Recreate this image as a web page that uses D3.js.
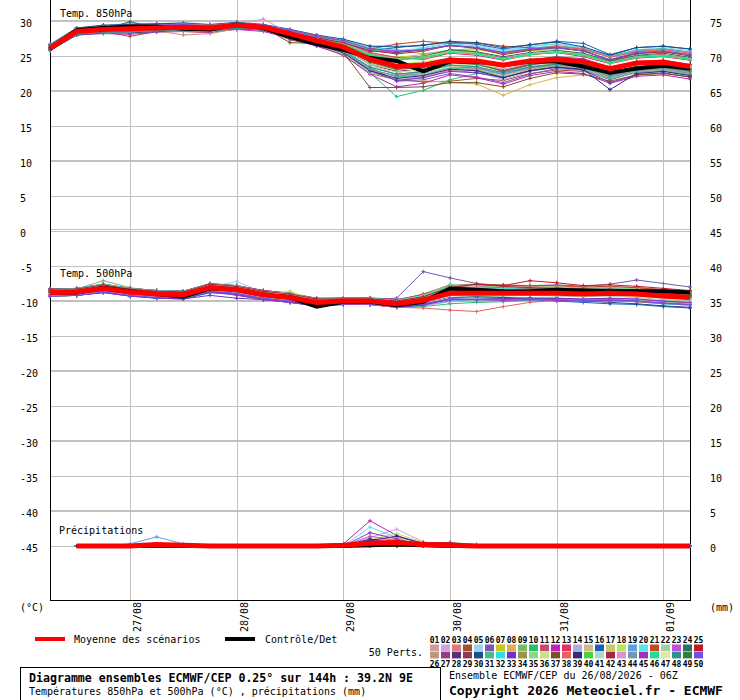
<!DOCTYPE html>
<html>
<head>
<meta charset="utf-8">
<script src="https://cdn.jsdelivr.net/npm/d3@7"></script>
<style>
body { margin:0; background:#fff; }
svg text { font-family:"DejaVu Sans Mono", monospace; fill:#000; }
</style>
</head>
<body>
<div id="chart"></div>
<script>
// run start and step of the ensemble (6h steps over 144h)
var RUN_START = Date.UTC(2026, 7, 26, 6);
var STEP_HOURS = 6;
var NSTEPS = 25;

var leftTicks = [30,25,20,15,10,5,0,-5,-10,-15,-20,-25,-30,-35,-40,-45];

// 850hPa temperature (°C)
var mean850 = [26.1,28.5,28.8,28.9,29.0,29.1,29.0,29.4,29.1,28.2,27.2,26.3,24.5,23.5,23.7,24.4,24.3,23.7,24.3,24.5,24.2,23.2,24.0,24.1,23.5];
var ctrl850 = [26.0,28.7,29.0,29.2,29.2,28.9,28.8,29.5,29.0,27.7,26.7,25.9,24.7,24.3,22.8,24.2,24.2,23.7,24.2,24.2,23.5,22.6,23.2,23.6,23.2];
var pert850 = [
	[26.3,28.6,28.9,29.2,29.1,29.3,29.0,29.5,29.2,28.4,27.5,26.9,25.9,25.6,25.9,26.6,26.2,25.6,26.1,26.4,26.0,25.1,25.8,26.0,25.6],
	[26.0,28.2,28.4,28.3,28.6,28.7,28.8,29.0,28.8,28.3,27.4,26.3,23.8,22.3,22.7,23.5,23.9,22.7,23.6,24.1,24.3,23.2,24.0,23.9,23.5],
	[26.0,28.1,28.6,28.8,28.7,28.5,28.3,29.0,28.7,27.8,26.7,25.5,23.1,21.5,21.9,23.0,22.6,21.9,23.1,23.6,23.3,22.0,22.9,23.1,22.5],
	[26.1,28.3,28.5,27.8,28.5,28.7,28.4,29.2,28.9,27.3,26.5,25.1,22.5,21.6,21.3,21.4,21.8,21.5,22.5,23.0,22.8,21.9,22.6,22.9,22.4],
	[26.7,29.0,29.3,29.7,29.6,29.8,29.5,29.8,29.5,28.8,28.0,27.3,26.4,26.6,26.2,27.0,26.6,25.8,26.4,26.8,26.2,25.1,25.9,26.2,25.8],
	[26.0,28.6,28.8,28.9,29.1,29.2,29.1,29.4,29.0,28.1,27.0,25.8,23.4,21.4,21.6,22.5,22.0,21.2,22.4,23.2,23.0,21.6,22.7,22.9,22.4],
	[26.3,28.5,28.9,29.1,29.0,29.2,28.9,29.5,29.2,28.3,27.4,26.6,25.2,24.8,25.2,25.6,25.9,25.4,25.8,25.9,25.2,24.2,25.0,25.2,24.6],
	[26.1,28.4,28.6,28.8,28.9,29.0,29.3,29.4,29.1,28.2,27.1,26.2,24.3,22.8,21.5,21.2,21.0,19.4,20.9,21.9,22.3,22.0,22.5,22.8,22.5],
	[26.6,29.0,29.4,29.4,29.6,29.6,29.3,29.8,29.5,28.7,27.8,27.2,26.2,25.9,25.3,25.8,26.1,25.3,25.9,26.1,25.8,24.9,25.6,25.8,25.2],
	[25.9,28.2,28.5,28.7,28.8,28.9,28.7,29.2,28.9,27.9,26.8,25.6,22.6,19.2,20.1,21.6,22.5,22.8,23.5,23.9,23.6,22.7,23.3,23.5,22.9],
	[26.2,28.6,29.0,29.1,29.2,29.2,29.0,29.3,29.0,28.1,27.2,26.6,25.4,24.6,25.0,25.8,25.5,24.7,25.3,25.5,25.2,24.2,25.0,25.2,24.6],
	[25.8,28.0,28.2,28.1,28.4,28.5,28.4,28.8,28.5,27.6,26.4,25.2,22.4,20.6,21.1,22.3,21.9,21.0,22.2,22.8,22.5,21.1,22.1,22.3,21.7],
	[26.5,28.9,29.3,29.6,29.5,29.6,29.4,29.7,29.4,28.6,27.7,26.9,25.5,24.8,24.5,25.4,25.1,24.4,25.2,25.5,24.9,23.9,24.7,24.9,24.4],
	[25.9,28.1,28.3,28.3,28.5,28.6,28.6,28.9,28.7,27.8,26.7,25.4,22.7,21.6,22.0,23.2,22.8,21.6,22.8,23.4,22.9,21.8,22.6,22.9,22.2],
	[26.4,28.6,28.9,29.2,29.1,29.3,29.0,29.5,29.1,28.2,27.3,26.3,24.4,23.4,22.9,24.1,24.3,23.7,24.3,24.8,24.5,23.3,24.1,24.3,23.6],
	[26.2,28.5,28.8,29.0,29.1,29.2,29.1,29.4,29.1,28.4,27.7,26.9,25.8,26.2,26.6,27.0,26.7,26.0,26.6,27.1,26.8,25.2,26.2,26.4,26.0],
	[25.8,28.1,28.3,28.5,28.5,28.7,28.6,29.0,28.8,27.9,26.9,25.9,23.9,23.1,23.4,24.2,23.9,23.1,23.9,24.3,24.1,22.9,23.6,23.9,23.1],
	[26.3,28.6,28.9,29.1,29.2,29.3,29.1,29.5,29.2,28.3,27.3,26.4,24.6,23.8,24.2,24.7,24.4,23.6,24.5,24.7,24.2,22.9,23.7,23.9,23.2],
	[26.1,28.5,28.8,29.0,29.0,29.2,29.0,29.4,29.0,28.0,27.0,25.8,23.4,22.4,22.7,23.7,23.4,22.4,23.3,23.8,23.4,22.1,23.1,23.3,22.7],
	[26.6,29.0,29.3,29.6,29.5,29.6,29.4,29.7,29.4,28.7,27.9,27.2,26.2,25.8,26.1,26.8,26.4,25.7,26.3,26.7,26.1,25.0,25.8,26.1,25.6],
	[26.2,28.5,28.9,29.1,29.1,29.2,29.0,29.4,29.1,28.4,27.6,26.8,26.0,26.7,27.1,26.8,26.9,26.4,26.2,26.2,25.8,24.4,25.3,25.6,25.2],
	[25.8,28.1,28.3,28.4,28.6,28.7,28.6,29.0,28.8,27.7,26.6,25.3,22.6,21.8,22.2,23.4,23.1,22.1,23.1,23.5,23.2,21.9,22.8,23.0,22.4],
	[26.3,28.6,29.0,29.2,29.2,29.3,29.1,29.5,29.2,28.3,27.4,26.5,24.6,23.6,23.9,24.6,24.4,23.6,24.4,24.9,24.4,23.3,24.1,24.3,23.7],
	[26.1,28.5,28.8,29.9,29.0,29.1,29.0,29.4,29.0,28.2,27.3,26.5,25.0,24.4,24.9,25.9,25.6,24.9,25.5,25.8,25.4,24.3,25.1,25.4,24.8],
	[26.2,28.6,28.9,29.1,29.1,29.3,29.1,29.5,29.1,28.5,27.7,27.0,25.8,25.3,25.7,26.5,26.2,25.4,26.0,26.4,26.0,24.9,25.8,26.0,25.5],
	[26.0,28.4,28.6,28.4,28.6,28.0,28.2,28.9,29.0,28.0,26.8,25.6,23.0,22.2,22.6,23.5,23.2,22.3,23.2,23.7,23.3,22.2,23.0,23.2,22.6],
	[26.3,28.6,29.0,29.1,29.1,29.3,29.1,29.4,29.1,28.3,27.3,26.4,24.5,23.6,23.9,24.7,24.5,23.7,24.4,24.9,24.6,23.4,24.2,24.4,23.8],
	[25.9,28.2,28.4,28.5,28.7,28.8,28.7,29.1,28.8,27.9,26.9,26.0,23.8,22.8,23.2,24.1,23.8,22.9,23.8,24.3,23.8,22.6,23.5,23.7,23.1],
	[26.2,28.6,28.9,29.0,29.1,29.2,29.0,29.4,29.1,28.2,27.2,26.3,24.4,23.4,23.8,24.5,24.2,23.4,24.2,24.6,24.2,23.0,23.9,24.1,23.5],
	[26.6,29.0,29.4,29.5,29.6,29.7,29.5,29.8,29.5,28.8,28.0,27.4,26.4,26.3,26.5,27.1,26.9,26.2,26.6,27.0,26.3,25.1,26.2,26.4,26.0],
	[25.9,28.1,28.5,28.5,28.6,28.8,28.6,29.0,28.8,27.9,26.8,25.7,23.2,22.0,22.3,23.3,23.0,22.0,22.9,23.5,23.1,21.7,22.7,22.9,22.3],
	[26.3,28.6,28.9,29.1,29.2,29.3,29.1,29.5,29.2,28.5,27.7,27.0,25.9,25.5,25.8,26.6,26.2,25.5,26.1,26.5,26.0,24.9,25.8,26.0,25.5],
	[26.0,28.4,28.6,28.8,28.9,29.0,28.9,29.2,28.9,27.9,26.7,25.5,22.9,21.5,21.9,22.8,22.6,21.9,22.9,23.4,23.0,21.2,22.3,22.6,22.0],
	[26.2,28.5,28.8,29.0,29.0,29.2,29.0,29.4,29.0,28.2,27.2,26.2,24.2,23.4,23.7,24.6,24.3,23.5,24.3,24.7,24.3,23.1,24.0,24.2,23.6],
	[26.3,28.6,29.0,29.2,29.2,29.3,29.1,29.5,29.2,28.4,27.5,26.8,25.3,24.6,24.9,25.7,25.4,24.6,25.3,25.6,25.2,24.1,24.9,25.1,24.6],
	[25.8,28.1,28.3,28.5,28.6,28.7,28.5,29.0,28.7,27.8,26.8,25.8,23.5,22.7,23.0,23.9,23.7,22.8,23.6,24.1,23.7,22.5,23.4,23.6,23.0],
	[26.2,28.5,28.8,29.0,29.0,29.2,29.0,29.4,29.1,26.9,26.8,25.5,20.5,20.5,20.6,21.2,21.2,20.6,21.8,22.6,22.4,21.4,22.3,22.5,22.0],
	[26.5,28.9,29.2,29.4,29.4,29.6,29.4,29.7,29.4,28.7,27.9,27.2,26.0,25.6,25.9,26.5,26.2,25.4,26.0,26.4,26.0,24.8,25.6,25.9,25.4],
	[25.8,28.0,28.3,28.3,28.5,28.7,28.6,28.9,28.7,27.7,26.6,25.5,22.9,21.8,22.2,23.1,22.9,21.9,22.9,23.4,23.1,20.2,22.5,22.8,22.2],
	[26.2,28.6,28.9,29.1,29.1,29.3,29.1,29.4,29.1,28.3,27.4,26.7,25.2,24.5,24.8,25.5,25.3,24.5,25.2,25.5,25.1,24.0,24.8,25.0,24.5],
	[25.9,28.2,28.4,28.6,28.7,28.8,28.7,29.0,28.8,27.9,26.9,26.0,23.8,23.0,23.3,24.2,23.8,23.0,23.8,24.2,23.8,22.7,23.5,23.7,23.1],
	[26.3,28.6,28.9,29.1,29.1,29.2,29.0,29.5,29.1,28.4,27.6,26.9,25.7,25.5,25.9,26.5,26.1,25.2,25.8,26.2,25.7,24.4,25.4,25.6,25.0],
	[26.2,28.5,28.8,29.0,29.1,29.2,29.0,29.4,30.3,28.2,27.2,26.2,24.2,23.3,23.5,24.3,24.0,23.1,23.9,24.4,24.1,22.9,23.7,24.0,23.4],
	[25.9,28.1,28.4,28.4,28.6,28.7,28.6,29.0,28.8,27.8,26.7,25.6,23.1,22.1,22.5,23.5,23.3,22.4,23.4,23.8,23.3,22.0,22.9,23.2,22.5],
	[26.3,28.6,29.0,29.2,29.2,29.3,29.1,29.5,29.2,28.4,27.4,26.5,24.5,23.3,23.6,24.3,23.9,22.8,23.7,24.3,23.9,22.6,23.5,23.8,23.2],
	[26.2,28.5,28.9,29.1,29.1,29.2,29.0,29.4,29.1,28.3,27.4,26.6,25.1,24.4,24.7,25.5,25.3,24.5,25.2,25.6,25.1,24.0,24.8,25.0,24.5],
	[26.4,28.7,29.0,29.2,29.2,29.4,29.1,29.5,29.2,28.3,27.4,26.4,24.3,23.5,22.6,23.5,23.7,23.4,24.1,24.4,24.0,23.2,23.6,23.9,23.4],
	[25.9,28.1,28.4,28.5,28.6,28.8,28.6,29.0,28.8,27.9,26.8,25.8,23.4,22.4,22.8,23.7,23.5,22.6,23.4,23.8,23.5,22.3,23.1,23.4,22.8],
	[26.2,28.6,28.9,29.1,29.1,29.2,29.0,29.4,29.0,28.2,27.2,26.2,24.1,23.1,23.4,24.1,23.8,22.9,23.8,24.2,23.8,22.6,23.5,23.7,23.1],
	[26.5,28.8,29.2,29.4,29.4,29.5,29.3,29.7,29.4,28.7,27.8,27.2,26.0,25.7,25.9,26.5,26.2,25.5,26.0,26.2,25.7,24.5,25.5,25.7,25.2]
];

// 500hPa temperature (°C)
var mean500 = [-8.8,-8.7,-8.2,-8.7,-9.0,-9.1,-8.1,-8.4,-9.1,-9.5,-10.2,-10.0,-10.0,-10.4,-9.9,-8.9,-8.9,-8.9,-8.9,-8.9,-9.0,-8.9,-9.0,-9.3,-9.5];
var ctrl500 = [-8.8,-8.8,-8.1,-8.6,-9.0,-9.4,-8.2,-8.4,-9.1,-9.5,-10.8,-10.1,-10.1,-10.6,-10.1,-8.2,-8.4,-8.6,-8.6,-8.4,-8.5,-8.6,-8.6,-8.6,-8.8];
var pert500 = [
	[-8.4,-8.3,-7.6,-8.2,-8.5,-8.6,-7.5,-7.8,-8.6,-8.9,-9.6,-9.5,-9.5,-9.8,-9.2,-8.1,-8.0,-8.1,-8.0,-8.1,-8.2,-8.1,-8.2,-8.5,-8.7],
	[-9.2,-9.1,-8.7,-9.2,-9.5,-9.6,-8.7,-9.0,-9.7,-10.1,-10.7,-10.4,-10.5,-10.9,-10.7,-10.1,-10.0,-9.9,-9.8,-9.7,-9.9,-9.8,-10.0,-10.3,-10.5],
	[-8.8,-8.7,-8.1,-8.7,-9.0,-9.1,-8.0,-8.3,-9.0,-9.4,-10.1,-10.0,-10.0,-10.5,-10.0,-9.0,-8.8,-8.8,-8.8,-8.8,-8.9,-8.8,-8.9,-9.2,-9.4],
	[-8.3,-8.3,-7.8,-8.2,-8.6,-8.6,-7.7,-7.9,-8.7,-9.1,-9.8,-9.7,-9.6,-10.0,-9.2,-7.9,-7.8,-8.0,-8.2,-8.1,-8.2,-8.0,-8.2,-8.5,-8.7],
	[-8.9,-8.7,-8.0,-8.7,-8.9,-9.1,-8.0,-7.2,-8.8,-9.3,-10.0,-9.9,-10.1,-10.4,-9.8,-8.7,-8.8,-8.9,-8.8,-8.8,-8.9,-8.8,-8.9,-9.2,-9.5],
	[-8.8,-8.6,-8.2,-8.7,-9.0,-9.0,-8.2,-8.5,-9.1,-9.5,-10.1,-9.9,-9.8,-9.6,-5.8,-6.7,-7.5,-7.8,-7.8,-7.7,-7.9,-7.6,-7.0,-7.5,-8.0],
	[-9.0,-9.0,-8.5,-9.0,-9.3,-9.4,-8.4,-8.7,-9.4,-9.8,-10.5,-10.3,-10.2,-10.6,-10.1,-9.0,-8.9,-9.0,-9.1,-9.1,-9.2,-9.2,-9.3,-9.6,-9.8],
	[-8.7,-8.6,-8.1,-8.6,-8.9,-9.0,-8.0,-8.3,-9.0,-9.4,-10.1,-10.0,-10.1,-10.5,-10.2,-9.2,-9.0,-8.9,-8.7,-8.6,-8.8,-8.7,-8.8,-9.1,-9.3],
	[-8.4,-8.3,-7.1,-8.1,-8.6,-8.7,-7.7,-8.0,-8.6,-9.0,-9.7,-9.7,-9.7,-10.0,-9.5,-8.3,-8.4,-8.5,-8.5,-8.6,-8.7,-8.6,-8.7,-9.0,-9.2],
	[-9.3,-9.2,-8.7,-9.2,-9.6,-9.7,-8.8,-9.0,-9.7,-10.1,-10.7,-10.5,-10.5,-10.9,-10.8,-10.4,-10.2,-10.1,-9.9,-9.8,-10.0,-9.9,-10.1,-10.4,-10.6],
	[-8.8,-8.7,-8.2,-8.7,-9.0,-9.1,-8.1,-8.4,-9.1,-9.5,-10.2,-10.0,-10.0,-10.4,-9.9,-8.9,-8.9,-8.9,-8.9,-9.0,-9.1,-9.0,-9.1,-9.4,-9.6],
	[-8.3,-8.2,-7.6,-8.2,-8.5,-8.6,-7.5,-7.8,-8.5,-8.9,-9.6,-9.6,-9.6,-9.8,-9.1,-7.7,-7.8,-8.0,-7.9,-8.0,-8.1,-8.0,-8.1,-8.4,-8.7],
	[-9.3,-9.2,-8.7,-9.2,-9.5,-9.6,-8.7,-9.0,-9.7,-10.1,-10.6,-10.4,-10.4,-10.8,-10.5,-9.8,-9.8,-9.7,-9.6,-9.6,-9.8,-9.7,-9.8,-10.1,-10.3],
	[-8.8,-8.7,-8.2,-8.7,-9.0,-9.1,-8.1,-8.4,-9.1,-9.5,-10.2,-10.0,-10.0,-10.3,-9.8,-8.7,-8.8,-8.8,-8.7,-8.8,-8.9,-8.8,-8.9,-9.2,-9.4],
	[-8.7,-8.7,-8.1,-8.7,-9.0,-9.1,-8.0,-8.3,-9.0,-9.4,-10.1,-10.0,-10.0,-10.4,-10.0,-9.0,-8.9,-8.9,-8.8,-8.9,-9.0,-8.9,-9.0,-9.3,-9.5],
	[-9.3,-9.2,-8.8,-9.3,-9.6,-9.7,-8.8,-9.1,-9.8,-10.2,-10.7,-10.5,-10.5,-10.8,-10.5,-9.8,-9.7,-9.8,-9.8,-10.0,-10.2,-10.4,-10.5,-10.8,-11.0],
	[-8.4,-8.3,-7.8,-8.3,-8.6,-8.7,-7.7,-8.0,-8.7,-9.1,-9.8,-9.7,-9.7,-10.0,-9.3,-7.8,-7.7,-7.9,-8.0,-7.9,-8.1,-8.0,-8.2,-8.5,-8.7],
	[-8.7,-8.6,-8.1,-8.6,-9.0,-9.0,-8.0,-8.3,-9.0,-8.6,-10.0,-9.9,-9.9,-10.2,-9.6,-8.5,-8.6,-8.7,-8.6,-8.7,-8.8,-8.7,-8.8,-9.1,-9.3],
	[-9.2,-9.2,-8.7,-9.2,-9.5,-9.6,-8.6,-8.9,-9.6,-10.0,-10.6,-10.4,-10.4,-10.8,-10.6,-10.0,-9.8,-9.7,-9.8,-9.9,-10.0,-9.9,-10.1,-10.4,-10.6],
	[-8.8,-8.7,-8.2,-8.7,-9.0,-9.1,-8.1,-8.4,-9.1,-9.5,-10.2,-10.0,-10.0,-10.4,-9.9,-8.8,-8.9,-9.0,-9.0,-9.0,-9.1,-9.0,-9.1,-9.4,-9.6],
	[-8.3,-8.2,-7.6,-8.2,-8.5,-8.6,-7.6,-7.9,-8.6,-9.0,-9.7,-9.6,-9.6,-9.9,-9.0,-7.7,-7.6,-7.7,-7.8,-7.8,-8.0,-7.9,-8.1,-8.4,-8.6],
	[-9.3,-9.2,-8.7,-9.2,-9.5,-9.6,-8.6,-8.9,-9.6,-10.0,-10.6,-10.4,-10.4,-10.9,-10.4,-9.5,-9.4,-9.3,-9.2,-9.3,-9.4,-9.3,-9.5,-9.8,-10.0],
	[-8.8,-8.7,-8.1,-8.7,-9.0,-9.1,-8.1,-8.4,-9.1,-9.5,-10.2,-10.0,-10.0,-10.3,-9.7,-8.6,-8.7,-8.7,-8.7,-8.7,-8.8,-8.7,-8.8,-9.1,-9.4],
	[-9.2,-9.1,-8.6,-9.1,-9.4,-9.5,-8.5,-8.8,-9.5,-9.9,-10.5,-10.3,-10.3,-10.7,-10.4,-9.7,-9.6,-9.6,-9.7,-9.7,-9.8,-9.8,-9.9,-10.2,-10.4],
	[-8.3,-8.2,-7.7,-8.2,-8.5,-8.6,-7.6,-7.8,-8.5,-8.9,-9.7,-9.6,-9.6,-9.9,-9.3,-8.0,-7.7,-7.8,-7.1,-7.4,-7.8,-7.7,-7.9,-8.2,-8.5],
	[-8.9,-8.8,-8.3,-8.8,-9.1,-9.2,-8.3,-8.6,-9.3,-9.7,-10.3,-10.1,-10.1,-10.5,-10.1,-9.1,-9.0,-9.0,-9.0,-9.0,-9.1,-9.0,-9.2,-9.5,-9.7],
	[-8.8,-8.7,-8.2,-8.7,-9.0,-9.1,-8.1,-8.4,-9.1,-9.5,-10.2,-10.0,-10.0,-10.4,-9.8,-8.8,-8.8,-8.8,-8.8,-8.8,-8.9,-8.8,-9.0,-9.3,-9.5],
	[-8.7,-8.7,-8.1,-8.7,-9.0,-9.1,-8.0,-8.3,-9.0,-9.4,-10.1,-10.0,-10.0,-10.3,-9.7,-8.6,-8.6,-8.7,-8.7,-8.6,-8.7,-8.6,-8.7,-9.0,-9.2],
	[-8.5,-8.4,-7.9,-8.4,-8.7,-8.8,-7.8,-8.1,-8.8,-9.2,-9.9,-9.8,-9.8,-10.1,-9.7,-8.5,-8.2,-8.1,-8.2,-8.2,-8.4,-8.3,-8.5,-8.8,-9.0],
	[-9.2,-9.2,-8.7,-9.2,-9.5,-9.6,-8.6,-8.9,-9.6,-10.0,-10.6,-10.4,-10.4,-10.8,-10.4,-9.5,-9.4,-9.5,-9.6,-9.8,-10.0,-10.2,-10.4,-10.7,-10.9],
	[-8.8,-8.7,-8.2,-8.7,-9.0,-9.1,-8.1,-8.4,-9.1,-9.5,-10.2,-10.0,-10.0,-10.4,-9.9,-8.9,-8.9,-8.9,-8.9,-8.9,-9.0,-8.9,-9.0,-9.3,-9.5],
	[-8.3,-8.2,-7.6,-8.2,-8.5,-8.6,-7.6,-7.8,-8.6,-8.9,-9.7,-9.6,-9.6,-9.9,-9.2,-8.0,-8.1,-8.2,-8.1,-8.2,-8.3,-8.2,-8.4,-8.7,-8.9],
	[-9.3,-9.2,-8.8,-9.3,-9.6,-9.7,-9.2,-9.6,-9.8,-10.2,-10.7,-10.5,-10.5,-10.9,-10.6,-9.7,-9.7,-9.7,-9.6,-9.6,-9.7,-9.6,-9.7,-10.0,-10.2],
	[-8.8,-8.7,-8.2,-8.7,-9.0,-9.1,-8.1,-8.4,-9.1,-9.5,-10.2,-10.0,-10.0,-10.4,-9.9,-8.9,-8.8,-8.8,-8.8,-8.8,-8.9,-8.8,-8.9,-9.2,-9.4],
	[-8.4,-8.3,-7.7,-8.3,-8.6,-8.7,-7.6,-7.9,-8.6,-9.0,-9.7,-9.7,-9.7,-10.0,-9.2,-7.6,-7.8,-8.0,-8.1,-8.0,-8.2,-8.1,-8.3,-8.6,-8.8],
	[-8.9,-8.8,-8.3,-8.8,-9.1,-9.2,-8.2,-8.5,-9.2,-8.6,-10.3,-10.1,-10.1,-10.5,-10.0,-9.0,-9.0,-9.0,-9.1,-9.1,-9.2,-9.1,-9.2,-9.5,-9.7],
	[-8.8,-8.7,-8.2,-8.7,-9.0,-9.1,-8.1,-8.4,-9.1,-9.5,-10.2,-10.0,-10.0,-10.4,-9.9,-8.8,-8.9,-8.9,-8.8,-8.8,-8.9,-8.8,-9.0,-9.3,-9.5],
	[-9.2,-9.1,-8.6,-9.1,-9.4,-9.5,-8.5,-8.8,-9.6,-10.0,-10.6,-10.4,-10.5,-10.9,-11.0,-11.3,-11.5,-10.8,-10.2,-9.9,-10.0,-10.0,-10.1,-10.3,-10.5],
	[-8.7,-8.6,-8.1,-8.6,-8.9,-9.0,-8.0,-8.3,-9.0,-9.4,-10.1,-9.9,-9.9,-10.3,-9.8,-8.8,-8.8,-8.8,-8.8,-8.8,-8.9,-8.8,-8.9,-9.2,-9.4],
	[-8.9,-8.8,-8.3,-8.8,-9.1,-9.2,-8.2,-8.5,-9.2,-9.6,-10.3,-10.1,-10.1,-10.5,-10.1,-9.0,-8.9,-8.9,-8.9,-8.9,-9.0,-9.0,-9.1,-9.4,-9.6],
	[-9.2,-9.1,-8.6,-9.1,-9.4,-9.5,-8.5,-8.8,-9.5,-9.9,-10.5,-10.3,-10.3,-10.7,-10.3,-9.6,-9.7,-9.8,-9.8,-9.8,-9.9,-9.8,-9.9,-10.2,-10.4],
	[-8.3,-8.3,-7.7,-8.3,-8.6,-8.7,-7.6,-7.9,-8.6,-9.0,-9.7,-9.7,-9.7,-10.0,-9.4,-8.1,-7.6,-7.9,-8.1,-8.2,-8.3,-8.3,-8.4,-8.7,-8.9],
	[-8.9,-8.8,-8.3,-8.8,-9.1,-9.2,-8.2,-8.5,-9.2,-9.6,-10.3,-10.1,-10.1,-10.5,-10.1,-9.2,-9.1,-9.1,-9.0,-9.0,-9.1,-9.1,-9.2,-9.5,-9.7],
	[-8.8,-8.7,-8.2,-8.7,-9.0,-9.1,-8.1,-8.4,-9.1,-9.5,-10.2,-10.0,-10.0,-10.4,-9.9,-8.8,-8.8,-8.8,-8.9,-8.9,-9.0,-8.9,-9.0,-9.3,-9.5],
	[-9.1,-9.0,-8.5,-9.0,-9.3,-9.4,-8.6,-9.2,-9.8,-10.2,-10.7,-10.4,-10.4,-10.8,-10.5,-9.7,-9.8,-9.9,-9.8,-9.9,-10.0,-9.9,-10.0,-10.3,-10.5],
	[-8.7,-8.6,-8.0,-8.6,-8.9,-9.0,-8.0,-8.3,-9.0,-9.4,-10.1,-9.9,-9.9,-10.2,-9.7,-8.6,-8.6,-8.7,-8.7,-8.7,-8.8,-8.7,-8.8,-9.1,-9.3],
	[-8.9,-8.8,-8.3,-8.8,-9.1,-9.2,-8.2,-8.5,-9.2,-9.6,-10.3,-10.1,-10.1,-10.5,-10.0,-9.0,-9.0,-9.0,-9.0,-9.0,-9.1,-9.0,-9.1,-9.4,-9.6],
	[-8.8,-8.7,-8.2,-8.7,-9.0,-9.1,-8.1,-8.4,-9.1,-9.5,-10.2,-10.0,-10.0,-10.4,-9.9,-8.9,-8.9,-8.9,-8.9,-8.9,-9.0,-8.9,-9.0,-9.3,-9.5],
	[-8.7,-8.7,-8.1,-8.7,-9.0,-9.1,-8.0,-8.3,-9.0,-9.4,-10.1,-10.0,-10.0,-10.3,-9.6,-8.4,-8.5,-8.6,-8.5,-8.5,-8.6,-8.5,-8.7,-9.0,-9.2],
	[-9.3,-9.2,-8.7,-9.2,-9.5,-9.6,-8.6,-8.9,-9.6,-10.0,-10.6,-10.4,-10.4,-10.8,-10.4,-9.7,-9.8,-9.8,-9.7,-9.8,-9.9,-9.8,-10.0,-10.3,-10.5]
];

// precipitation (mm per 6h); first step has no value
var meanRain = [0,0,0,0,0.2,0.1,0,0,0,0,0,0.1,0.4,0.5,0.2,0.1,0,0,0,0,0,0,0,0,0];
var ctrlRain = [0,0,0,0,0,0,0,0,0,0,0,0,0.1,0.2,0.1,0,0,0,0,0,0,0,0,0,0];
var pertRain = [
	[0,0,0,0,0,0,0,0,0,0,0,0,0.3,0.2,0,0,0,0,0,0,0,0,0,0,0],
	[0,0,0,0,0,0,0,0,0,0,0,0,1.2,2.4,0.6,0,0,0,0,0,0,0,0,0,0],
	[0,0,0,0,0,0,0,0,0,0,0,0,0.5,0.4,0,0,0,0,0,0,0,0,0,0,0],
	[0,0,0,0,0,0,0,0,0,0,0,0,0,0,0,0,0,0,0,0,0,0,0,0,0],
	[0,0,0,0,0,0,0,0,0,0,0,0,0,0.3,0,0,0,0,0,0,0,0,0,0,0],
	[0,0,0,0,0,0,0,0,0,0,0,0,0.6,0.4,0,0,0,0,0,0,0,0,0,0,0],
	[0,0,0,0,0,0,0,0,0,0,0,0,0.6,1.3,0.3,0,0,0,0,0,0,0,0,0,0],
	[0,0,0,0,0,0,0,0,0,0,0,0,0,0,0,0,0,0,0,0,0,0,0,0,0],
	[0,0,0,0,0,0,0,0,0,0,0,0,0.2,0,0,0,0,0,0,0,0,0,0,0,0],
	[0,0,0,0,0,0,0,0,0,0,0,0,0.4,0.3,0,0,0,0,0,0,0,0,0,0,0],
	[0,0,0,0,0,0,0,0,0,0,0,0,0.7,0.4,0,0.3,0,0,0,0,0,0,0,0,0],
	[0,0,0,0,0,0,0,0,0,0,0,0.3,3.6,1.5,0.3,0,0,0,0,0,0,0,0,0,0],
	[0,0,0,0,0,0,0,0,0,0,0,0,0.8,0.5,0,0,0,0,0,0,0,0,0,0,0],
	[0,0,0,0,0,0,0,0,0,0,0,0,0,0.4,0,0,0,0,0,0,0,0,0,0,0],
	[0,0,0,0,0,0,0,0,0,0,0,0,0,0,0,0,0,0,0,0,0,0,0,0,0],
	[0,0,0,0,0,0,0,0,0,0,0,0,0,0.2,0,0,0,0,0,0,0,0,0,0,0],
	[0,0,0,0,0,0,0,0,0,0,0,0,0.3,0.9,0,0,0,0,0,0,0,0,0,0,0],
	[0,0,0,0,0,0,0,0,0,0,0,0,0.9,1.8,0.5,0,0,0,0,0,0,0,0,0,0],
	[0,0,0,0.3,1.3,0.3,0,0,0,0,0,0,0,0,0,0,0,0,0,0,0,0,0,0,0],
	[0,0,0,0,0,0,0,0,0,0,0,0,2.7,1.2,0,0,0,0,0,0,0,0,0,0,0],
	[0,0,0,0,0,0,0,0,0,0,0,0,0.4,0.3,0,0,0,0,0,0,0,0,0,0,0],
	[0,0,0,0,0,0,0,0,0,0,0,0,0,0.6,0,0,0,0,0,0,0,0,0,0,0],
	[0,0,0,0,0,0,0,0,0,0,0,0,1.4,0.8,0,0,0,0,0,0,0,0,0,0,0],
	[0,0,0,0,0,0,0,0,0,0,0,0,0.2,0,0,0,0,0,0,0,0,0,0,0,0],
	[0,0,0,0,0,0,0,0,0,0,0,0,0.5,0.6,0,0.4,0,0,0,0,0,0,0,0,0],
	[0,0,0,0,0,0,0,0,0,0,0,0,0,0,0,0,0,0,0,0,0,0,0,0,0],
	[0,0,0,0,0,0,0,0,0,0,0,0,0.9,0.6,0,0,0,0,0,0,0,0,0,0,0],
	[0,0,0,0,0,0,0,0,0,0,0,0,1.0,0.5,0,0,0,0,0,0,0,0,0,0,0],
	[0,0,0,0,0,0,0,0,0,0,0,0,0,0.3,0,0,0,0,0,0,0,0,0,0,0],
	[0,0,0,0,0,0,0,0,0,0,0,0,0.5,0,0,0,0,0,0,0,0,0,0,0,0],
	[0,0,0,0,0,0,0,0,0,0,0,0,0.3,0,0,0,0,0,0,0,0,0,0,0,0],
	[0,0,0,0,0,0,0,0,0,0,0,0,0.6,0.2,0,0,0,0,0,0,0,0,0,0,0],
	[0,0,0,0,0,0,0,0,0,0,0,0,0.7,0.9,0,0,0,0,0,0,0,0,0,0,0],
	[0,0,0,0,0,0,0,0,0,0,0,0,0,0,0,0,0,0,0,0,0,0,0,0,0],
	[0,0,0,0,0,0,0,0,0,0,0,0,0.4,0,0,0,0,0,0,0,0,0,0,0,0],
	[0,0,0,0,0,0,0,0,0,0,0,0,0,0.5,0,0,0,0,0,0,0,0,0,0,0],
	[0,0,0,0,0,0,0,0,0,0,0,0,0,0,0,0,0,0,0,0,0,0,0,0,0],
	[0,0,0,0,0,0,0,0,0,0,0,0,0.6,0.3,0,0,0,0,0,0,0,0,0,0,0],
	[0,0,0,0,0,0,0,0,0,0,0,0,0.8,1.4,0.4,0,0,0,0,0,0,0,0,0,0],
	[0,0,0,0,0,0,0,0,0,0,0,0,0.2,0,0,0,0,0,0,0,0,0,0,0,0],
	[0,0,0,0,0,0,0,0,0,0,0,0,0,0,0,0,0,0,0,0,0,0,0,0,0],
	[0,0,0,0,0,0,0,0,0,0,0,0,0,0,0.5,0.5,0.2,0,0,0,0,0,0,0,0],
	[0,0,0,0,0,0,0,0,0,0,0,0,0.5,1.0,0,0,0,0,0,0,0,0,0,0,0],
	[0,0,0,0,0,0,0,0,0,0,0,0,0,0.3,0,0,0,0,0,0,0,0,0,0,0],
	[0,0,0,0,0,0,0,0,0,0,0,0,1.9,1.0,0,0,0,0,0,0,0,0,0,0,0],
	[0,0,0,0,0,0,0,0,0,0,0,0,0.3,0,0,0,0,0,0,0,0,0,0,0,0],
	[0,0,0,0,0,0,0,0,0,0,0,0,0,0,0,0,0,0,0,0,0,0,0,0,0],
	[0,0,0,0,0,0,0,0,0,0,0,0,0.4,0.2,0,0,0,0,0,0,0,0,0,0,0],
	[0,0,0,0,0,0,0,0,0,0,0,0,0,0,0,0,0,0,0,0,0,0,0,0,0],
	[0,0,0,0,0,0,0,0,0,0,0,0,0.3,0.5,0,0,0,0,0,0,0,0,0,0,0]
];

// one colour per perturbation, 01..50
var pertColours = ["#d09ca0","#d0a0e0","#e07880","#a0522d","#a0d0f0","#7b58b0","#c8c820","#e0b050","#78b868","#28c070",
	"#c84878","#c020c0","#e03060","#a8b0e0","#d0b888","#1860c0","#c8c868","#b8e858","#60a0e0","#60e0e8",
	"#c04828","#a0d0a0","#c050e0","#287060","#c01828","#c09878","#983a88","#5a2e7a","#8c3c50","#1a4f8a",
	"#50b890","#30e0e0","#7030d0","#a09050","#88d888","#c8e088","#7a5028","#e86060","#382878","#50d040",
	"#b0d8c8","#a82840","#e090d0","#7098b0","#a030c0","#20e090","#e0e8a0","#309090","#3a7a3a","#7050e8"];

var W = 740, H = 700;
var PLOT = {left:50, right:690, top:0, bottom:600};
var GRID = "#c0c0c0";

var times = d3.range(NSTEPS).map(function(i) { return new Date(RUN_START + i*STEP_HOURS*3600e3); });

var svg = d3.select('#chart').append('svg')
	.attr('width', W).attr('height', H)
	.style('background', '#fff');

var x = d3.scaleUtc()
	.domain([times[0], times[NSTEPS-1]])
	.range([PLOT.left, PLOT.right]);
// one temperature scale for both panels: 7px per degree, 0 at y=231
var y = d3.scaleLinear().domain([-52.714, 33]).range([PLOT.bottom, PLOT.top]);
// precipitation axis on the right, 0mm sits on the -45 line
var yRain = d3.scaleLinear().domain([-7.714, 78]).range([PLOT.bottom, PLOT.top]);

// ---- grid ----
var grid = svg.append('g');
grid.selectAll('line.h').data(leftTicks.filter(function(v) { return v != 0; }))
	.enter().append('line')
	.attr('x1', PLOT.left).attr('x2', PLOT.right)
	.attr('y1', function(v) { return Math.round(y(v)) + (v % 10 == 0 ? 0 : 0.5); })
	.attr('y2', function(v) { return Math.round(y(v)) + (v % 10 == 0 ? 0 : 0.5); })
	.attr('stroke', GRID)
	.attr('stroke-width', function(v) { return v % 10 == 0 ? 2 : 1; });
// the panel separator is a double line
[-1.5, 0.5].forEach(function(off) {
	grid.append('line')
		.attr('x1', PLOT.left).attr('x2', PLOT.right)
		.attr('y1', Math.round(y(0)) + off).attr('y2', Math.round(y(0)) + off)
		.attr('stroke', GRID).attr('stroke-width', 1);
});
var days = d3.utcDay.range(d3.utcDay.ceil(times[0]), times[NSTEPS-1]);
grid.selectAll('line.v').data(days)
	.enter().append('line')
	.attr('x1', function(d) { return Math.round(x(d)) + 0.5; })
	.attr('x2', function(d) { return Math.round(x(d)) + 0.5; })
	.attr('y1', PLOT.top).attr('y2', PLOT.bottom)
	.attr('stroke', GRID).attr('stroke-width', 1);

// frame: left, right and bottom
var frame = svg.append('g').attr('stroke', '#000').attr('stroke-width', 1);
frame.append('line').attr('x1', PLOT.left+0.5).attr('x2', PLOT.left+0.5).attr('y1', 0).attr('y2', PLOT.bottom);
frame.append('line').attr('x1', PLOT.right+0.5).attr('x2', PLOT.right+0.5).attr('y1', 0).attr('y2', PLOT.bottom);
frame.append('line').attr('x1', PLOT.left).attr('x2', PLOT.right+1).attr('y1', PLOT.bottom+0.5).attr('y2', PLOT.bottom+0.5);

// ---- axis labels ----
svg.append('g').selectAll('text').data(leftTicks)
	.enter().append('text')
	.attr('x', 20).attr('y', function(v) { return y(v) + 6; })
	.attr('font-size', 10)
	.text(function(v) { return v; });
svg.append('g').selectAll('text').data(leftTicks)
	.enter().append('text')
	.attr('x', 710).attr('y', function(v) { return y(v) + 6; })
	.attr('font-size', 10)
	.text(function(v) { return v + 45; });
svg.append('text').attr('x', 20).attr('y', 611).attr('font-size', 10).text('(°C)');
svg.append('text').attr('x', 710).attr('y', 611).attr('font-size', 10).text('(mm)');

var fmtDay = d3.utcFormat('%d/%m');
svg.append('g').selectAll('text').data(days)
	.enter().append('text')
	.attr('transform', function(d) { return 'translate(' + (Math.round(x(d)) + 10.5) + ',602) rotate(-90)'; })
	.attr('text-anchor', 'end')
	.attr('font-size', 10)
	.text(fmtDay);

// panel titles
svg.append('text').attr('x', 60).attr('y', 17).attr('font-size', 10).text('Temp. 850hPa');
svg.append('text').attr('x', 60).attr('y', 277).attr('font-size', 10).text('Temp. 500hPa');
svg.append('text').attr('x', 59).attr('y', 534).attr('font-size', 10).text('Précipitations');

// ---- series ----
function lineFor(scale, skipFirst) {
	return d3.line()
		.defined(function(d, i) { return !(skipFirst && i == 0); })
		.x(function(d, i) { return x(times[i]); })
		.y(function(d) { return scale(d); });
}
var tempLine = lineFor(y, false);
var rainLine = lineFor(function(v) { return yRain(v); }, true);

/**
 * Draws the 50 perturbations (thin lines with small crosses at every step),
 * then the control and the ensemble mean on top.
 **/
function drawGroup(perts, ctrl, mean, line, scale, skipFirst) {
	var g = svg.append('g');
	perts.forEach(function(vals, m) {
		g.append('path')
			.attr('d', line(vals))
			.attr('fill', 'none')
			.attr('stroke', pertColours[m])
			.attr('stroke-width', 1);
		var crosses = '';
		vals.forEach(function(v, i) {
			if(skipFirst && i == 0) return;
			var px = x(times[i]), py = scale(v);
			crosses += 'M' + (px-2) + ',' + py + 'h4M' + px + ',' + (py-2) + 'v4';
		});
		g.append('path').attr('d', crosses)
			.attr('fill', 'none').attr('stroke', pertColours[m]).attr('stroke-width', 1);
	});
	g.append('path').attr('d', line(ctrl))
		.attr('fill', 'none').attr('stroke', '#000').attr('stroke-width', 4)
		.attr('stroke-linejoin', 'miter');
	g.append('path').attr('d', line(mean))
		.attr('fill', 'none').attr('stroke', '#ff0000').attr('stroke-width', 5)
		.attr('stroke-linejoin', 'miter');
}
drawGroup(pert850, ctrl850, mean850, tempLine, y, false);
drawGroup(pert500, ctrl500, mean500, tempLine, y, false);
drawGroup(pertRain, ctrlRain, meanRain, rainLine, yRain, true);

// ---- legend ----
var legend = svg.append('g');
legend.append('rect').attr('x', 35).attr('y', 637).attr('width', 30).attr('height', 4).attr('fill', '#ff0000');
legend.append('text').attr('x', 74).attr('y', 643).attr('font-size', 10).text('Moyenne des scénarios');
legend.append('rect').attr('x', 225).attr('y', 637).attr('width', 30).attr('height', 4).attr('fill', '#000');
legend.append('text').attr('x', 265).attr('y', 643).attr('font-size', 10).text('Contrôle/Det');
legend.append('text').attr('x', 423).attr('y', 656).attr('text-anchor', 'end').attr('font-size', 10).text('50 Perts.');

var swatch = legend.append('g').selectAll('g').data(pertColours)
	.enter().append('g')
	.attr('transform', function(c, i) { return 'translate(' + (430 + (i % 25) * 11) + ',' + (i < 25 ? 0 : 1) + ')'; });
swatch.append('rect')
	.attr('x', 0).attr('width', 9)
	.attr('y', function(c, i) { return i < 25 ? 644.5 : 650.7; })
	.attr('height', 6.7)
	.attr('fill', function(c) { return c; });
swatch.append('text')
	.attr('x', 4.5)
	.attr('y', function(c, i) { return i < 25 ? 643 : 666; })
	.attr('text-anchor', 'middle')
	.attr('font-size', 8).attr('font-weight', 'bold')
	.text(function(c, i) { return d3.format('02d')(i + 1); });

// ---- title block ----
svg.append('rect').attr('x', 20.5).attr('y', 667.5).attr('width', 420).attr('height', 40)
	.attr('fill', 'none').attr('stroke', '#000');
svg.append('text').attr('x', 29).attr('y', 682).attr('font-size', 11.6).attr('font-weight', 'bold')
	.text('Diagramme ensembles ECMWF/CEP 0.25° sur 144h : 39.2N 9E');
svg.append('text').attr('x', 29).attr('y', 695).attr('font-size', 10)
	.text('Températures 850hPa et 500hPa (°C) , précipitations (mm)');
svg.append('text').attr('x', 449).attr('y', 679).attr('font-size', 10)
	.text('Ensemble ECMWF/CEP du 26/08/2026 - 06Z');
svg.append('text').attr('x', 449).attr('y', 695).attr('font-size', 13).attr('font-weight', 'bold')
	.text('Copyright 2026 Meteociel.fr - ECMWF');
</script>
</body>
</html>
